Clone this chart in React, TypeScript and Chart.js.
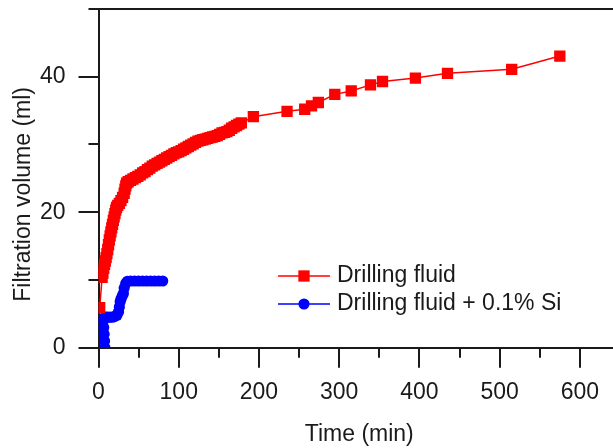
import { useEffect, useRef } from "react";
import { Chart, registerables } from "chart.js";

Chart.register(...registerables);

// ---- data ----
const seriesLabels = ["Drilling fluid", "Drilling fluid + 0.1% Si"];
const xTitle = "Time (min)";
const yTitle = "Filtration volume (ml)";

const fluidTime = [
  1.5, 4.5, 5.5, 6.5, 7.5, 8.5, 9.5, 10.5, 11.5, 12.5, 13.5, 14.5, 15.5, 16.5, 17.5, 18.5, 19.5,
  20.5, 21.5, 22.5, 24, 26, 28, 30, 32, 33, 34, 35, 37, 40, 43, 46, 49, 52, 55, 58, 61, 64, 67,
  70, 73, 76, 79, 82, 85, 88, 91, 94, 97, 100, 103, 106, 109, 112, 115, 118, 121, 124, 127, 130,
  133, 136, 139, 142, 145, 148, 151, 154, 157, 160, 163, 166, 169, 172, 175, 178,
  193, 235, 257, 265.5, 274, 294.5, 315, 339, 354, 395, 435, 515, 575,
];
const fluidVolume = [
  5.9, 10.4, 11.0, 11.7, 12.3, 12.8, 13.3, 13.9, 14.5, 15.2, 15.9, 16.5, 17.1, 17.7, 18.2, 18.8, 19.3,
  19.8, 20.3, 20.7, 21.0, 21.3, 21.7, 22.2, 22.8, 23.4, 23.9, 24.3, 24.5, 24.7, 24.9, 25.1, 25.3, 25.5, 25.8, 26.0, 26.3, 26.5, 26.8,
  27.0, 27.2, 27.4, 27.6, 27.8, 28.0, 28.2, 28.4, 28.6, 28.8, 28.9, 29.1, 29.3, 29.5, 29.7, 29.9, 30.1, 30.3, 30.5, 30.6, 30.7,
  30.8, 30.9, 31.0, 31.1, 31.2, 31.3, 31.5, 31.7, 31.8, 31.9, 32.1, 32.4, 32.6, 32.8, 33.0, 33.2,
  34.1, 34.9, 35.2, 35.7, 36.2, 37.4, 37.9, 38.8, 39.3, 39.8, 40.5, 41.1, 43.05,
];

const siTime = [
  8, 7.5, 7, 6.5, 6, 7, 9, 11, 14, 17, 20, 23, 25, 26, 27, 28, 29.5, 31, 32, 34, 36,
  40, 45, 50, 55, 60, 65, 70, 75, 80,
];
const siVolume = [
  0, 1.0, 2.0, 3.0, 4.0, 4.4, 4.5, 4.5, 4.5, 4.5, 4.6, 4.8, 5.3, 6.0, 6.8, 7.2, 7.6, 8.0, 8.8, 9.5, 9.8,
  9.85, 9.85, 9.85, 9.85, 9.85, 9.85, 9.85, 9.85, 9.85,
];

const xMin = 0;
const xMax = 650;
const xStep = 100;
const yMin = 0;
const yMax = 50;
const yStep = 20;
const xMinorTicks = [50, 150, 250, 350, 450, 550, 650];
const yMinorTicks = [10, 30, 50];

// ---- styles ----
const RED = "#ff0000";
const BLUE = "#0000ff";
const AXIS = "#1a1a1a";
const TEXT = "#1a1a1a";
const FONT = "'Liberation Sans', Arial, sans-serif";
const FONT_SIZE = 23;

const framePlugin = {
  id: "frameAndMinor",
  afterDraw(chart: any) {
    const { ctx, chartArea, scales } = chart;
    const xs = scales.x;
    const ys = scales.y;
    ctx.save();
    ctx.strokeStyle = AXIS;
    ctx.lineWidth = 2;
    ctx.beginPath();
    const top = Math.round(chartArea.top);
    ctx.moveTo(chartArea.left, top);
    ctx.lineTo(chartArea.right, top);
    for (const v of xMinorTicks) {
      const px = Math.round(xs.getPixelForValue(v));
      ctx.moveTo(px, chartArea.bottom);
      ctx.lineTo(px, chartArea.bottom + 10);
    }
    for (const v of yMinorTicks) {
      const py = Math.round(ys.getPixelForValue(v));
      ctx.moveTo(chartArea.left - 10, py);
      ctx.lineTo(chartArea.left, py);
    }
    ctx.stroke();
    ctx.restore();
  },
};

const legendPlugin = {
  id: "innerLegend",
  afterDraw(chart: any) {
    const { ctx } = chart;
    const x0 = 278;
    const x1 = 330;
    const textX = 337;
    const rows = [276, 304];
    ctx.save();
    chart.data.datasets.forEach((ds: any, i: number) => {
      const y = rows[i];
      ctx.strokeStyle = ds.borderColor;
      ctx.lineWidth = ds.borderWidth;
      ctx.beginPath();
      ctx.moveTo(x0, y);
      ctx.lineTo(x1, y);
      ctx.stroke();
      ctx.fillStyle = ds.backgroundColor;
      const cx = (x0 + x1) / 2;
      ctx.beginPath();
      if (ds.pointStyle === "rect") {
        const s = ds.pointRadius * Math.SQRT1_2;
        ctx.rect(cx - s, y - s, 2 * s, 2 * s);
      } else {
        ctx.arc(cx, y, ds.pointRadius, 0, Math.PI * 2);
      }
      ctx.fill();
      ctx.fillStyle = TEXT;
      ctx.font = `${FONT_SIZE}px ${FONT}`;
      ctx.textAlign = "left";
      ctx.textBaseline = "middle";
      ctx.fillText(ds.label, textX, y);
    });
    ctx.restore();
  },
};

export default function App() {
  const ref = useRef<HTMLCanvasElement>(null);

  useEffect(() => {
    document.body.style.margin = "0";
    const canvas = ref.current;
    if (!canvas) return;
    const chart = new Chart(canvas, {
      type: "line",
      data: {
        datasets: [
          {
            label: seriesLabels[0],
            data: fluidTime.map((t, i) => ({ x: t, y: fluidVolume[i] })),
            borderColor: RED,
            backgroundColor: RED,
            borderWidth: 1.5,
            pointStyle: "rect",
            pointRadius: 8,
            pointBorderWidth: 0,
            pointHoverRadius: 8,
            clip: 0,
          },
          {
            label: seriesLabels[1],
            data: siTime.map((t, i) => ({ x: t, y: siVolume[i] })),
            borderColor: BLUE,
            backgroundColor: BLUE,
            borderWidth: 1.5,
            pointStyle: "circle",
            pointRadius: 5.6,
            pointBorderWidth: 0,
            pointHoverRadius: 5.6,
            clip: 0,
          },
        ],
      },
      options: {
        responsive: false,
        animation: false,
        events: [],
        layout: { autoPadding: false, padding: { top: 9, left: 0, right: 0, bottom: 0 } },
        plugins: {
          legend: { display: false },
          tooltip: { enabled: false },
        },
        scales: {
          x: {
            type: "linear",
            min: xMin,
            max: xMax,
            afterFit: (s: any) => {
              s.height = 100.3;
              s.paddingLeft = 0;
              s.paddingRight = 0;
            },
            ticks: {
              stepSize: xStep,
              includeBounds: false,
              padding: 11,
              color: TEXT,
              font: { family: FONT, size: FONT_SIZE },
              maxRotation: 0,
              autoSkip: false,
            },
            grid: {
              drawOnChartArea: false,
              tickLength: 20,
              lineWidth: 2,
              color: AXIS,
            },
            border: { display: true, color: AXIS, width: 2 },
            title: {
              display: true,
              text: xTitle,
              color: TEXT,
              font: { family: FONT, size: FONT_SIZE },
              padding: { top: 0, bottom: 0 },
            },
          },
          y: {
            type: "linear",
            min: yMin,
            max: yMax,
            afterFit: (s: any) => {
              s.width = 98.5;
              s.paddingTop = 0;
              s.paddingBottom = 0;
            },
            ticks: {
              stepSize: yStep,
              includeBounds: false,
              padding: 13,
              color: TEXT,
              font: { family: FONT, size: FONT_SIZE },
            },
            grid: {
              drawOnChartArea: false,
              tickLength: 20,
              lineWidth: 2,
              color: AXIS,
            },
            border: { display: true, color: AXIS, width: 2 },
            title: {
              display: true,
              text: yTitle + "\u00A0\u00A0\u00A0\u00A0\u00A0",
              color: TEXT,
              font: { family: FONT, size: FONT_SIZE },
              padding: { top: 9.6, bottom: 0 },
            },
          },
        },
      },
      plugins: [framePlugin, legendPlugin],
    } as any);
    return () => chart.destroy();
  }, []);

  return (
    <div style={{ width: 613, height: 448, overflow: "hidden" }}>
      <div style={{ width: 620, height: 448 }}>
        <canvas ref={ref} width={620} height={448} style={{ display: "block", width: 620, height: 448 }} />
      </div>
    </div>
  );
}
